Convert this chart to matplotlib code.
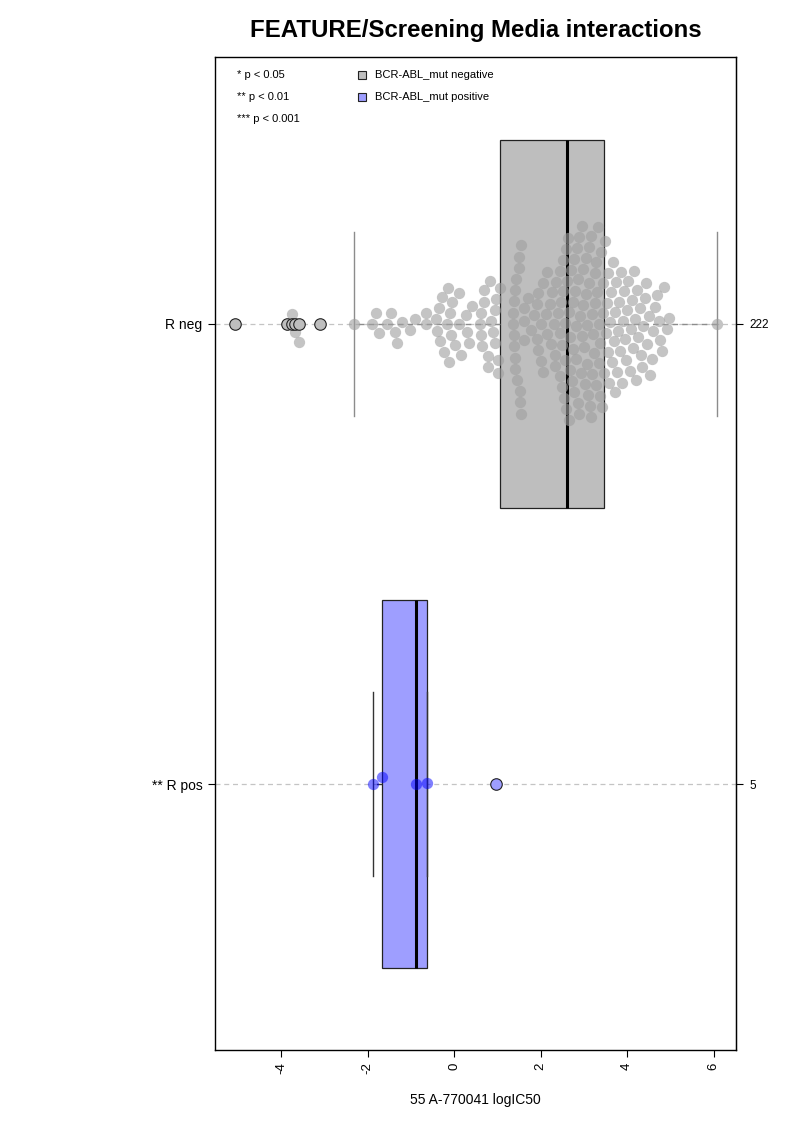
import numpy as np
import matplotlib
matplotlib.use('Agg')
import matplotlib.pyplot as plt

plt.rcParams['font.family'] = ['Liberation Sans', 'DejaVu Sans']

# groups, bottom to top
group_labels = ['** R pos', 'R neg']
group_counts = ['5', '222']
legend_groups = ['BCR-ABL_mut negative', 'BCR-ABL_mut positive']
sig_labels = ['* p < 0.05', '** p < 0.01', '*** p < 0.001']
x_ticks = [-4, -2, 0, 2, 4, 6]

# logIC50 values
pos_vals = [-1.87, -1.67, -0.88, -0.62, 0.98]
neg_vals = [
    -5.07, -3.86, -3.74, -3.67, -3.58, -3.10, -2.31, -1.89, -1.81, -1.74,
    -1.55, -1.46, -1.36, -1.33, -1.21, -1.01, -0.90, -0.65, -0.65,
    -0.41, -0.40, -0.35, -0.32, -0.29, -0.24, -0.16, -0.14, -0.12, -0.10,
    -0.08, -0.04, 0.02, 0.11, 0.12, 0.15, 0.27, 0.30, 0.34, 0.42,
    0.61, 0.62, 0.63, 0.64, 0.69, 0.70, 0.78, 0.79, 0.83, 0.86,
    0.90, 0.94, 0.95, 0.96, 1.01, 1.02, 1.06,
    1.36, 1.37, 1.38, 1.38, 1.39, 1.40, 1.41, 1.42, 1.43, 1.45,
    1.50, 1.51, 1.52, 1.53, 1.54, 1.55,
    1.61, 1.61, 1.62, 1.70, 1.77, 1.84, 1.91, 1.92, 1.94, 1.94,
    2.00, 2.01, 2.05, 2.06, 2.12, 2.14, 2.15, 2.21, 2.24, 2.26,
    2.30, 2.33, 2.33, 2.35, 2.40, 2.44, 2.45, 2.45,
    2.47, 2.49, 2.50, 2.51, 2.53, 2.54, 2.56, 2.56, 2.58, 2.59, 2.61,
    2.63, 2.65, 2.66, 2.68, 2.69, 2.71, 2.72, 2.74, 2.75, 2.77,
    2.78, 2.80, 2.81, 2.83, 2.84, 2.86, 2.87, 2.89, 2.90, 2.92,
    2.93, 2.95, 2.96, 2.98, 2.99, 3.01, 3.02, 3.04, 3.05, 3.07,
    3.08, 3.10, 3.11, 3.13, 3.14, 3.16, 3.17, 3.19, 3.20, 3.22,
    3.23, 3.25, 3.26, 3.28, 3.29, 3.31, 3.32, 3.34, 3.35, 3.37,
    3.38, 3.40, 3.42, 3.44, 3.45, 3.47,
    3.49, 3.51, 3.53, 3.55, 3.57, 3.59, 3.61, 3.63, 3.65, 3.67,
    3.69, 3.71, 3.73, 3.75, 3.77, 3.79, 3.81, 3.83,
    3.86, 3.88, 3.91, 3.93, 3.96, 3.98, 4.01, 4.03, 4.06, 4.08,
    4.11, 4.13, 4.16, 4.18, 4.20,
    4.23, 4.26, 4.29, 4.32, 4.35, 4.38, 4.41, 4.44, 4.47, 4.50, 4.53,
    4.57, 4.61, 4.65, 4.69, 4.73, 4.77, 4.81, 4.86, 4.92, 4.98,
    6.07,
]


def fivenum(v):
    x = np.sort(np.asarray(v, dtype=float))
    n = len(x)
    n4 = np.floor((n + 3) / 2) / 2
    d = np.array([1, n4, (n + 1) / 2, n + 1 - n4, n]) - 1
    return 0.5 * (x[np.floor(d).astype(int)] + x[np.ceil(d).astype(int)])


def box_stats(v):
    v = np.asarray(v, dtype=float)
    lo, q1, med, q3, hi = fivenum(v)
    iqr = q3 - q1
    inside = v[(v >= q1 - 1.5 * iqr) & (v <= q3 + 1.5 * iqr)]
    return dict(med=med, q1=q1, q3=q3, whislo=inside.min(), whishi=inside.max(),
                fliers=v[(v < q1 - 1.5 * iqr) | (v > q3 + 1.5 * iqr)])


def swarm(vals, sx, sy, d):
    # beeswarm "swarm" layout, computed in pixels
    xs = np.asarray(vals, dtype=float) * sx
    out = np.zeros(len(xs))
    px, py = [], []
    for i in np.argsort(xs, kind='stable'):
        x = xs[i]
        cands = [0.0]
        for a, b in zip(px, py):
            dx = abs(x - a)
            if dx < d:
                h = np.sqrt(d * d - dx * dx)
                cands += [b + h, b - h]
        cands.sort(key=lambda c: (round(abs(c), 6), -c))
        for c in cands:
            if all((x - a) ** 2 + (c - b) ** 2 >= d * d - 1e-6 for a, b in zip(px, py)):
                break
        out[i] = c
        px.append(x)
        py.append(c)
    return out / sy


fig = plt.figure(figsize=(7.93, 11.22), dpi=100)
ax = fig.add_axes([215 / 793, 1 - 1050 / 1122, 521 / 793, 993 / 1122])
xlim = (-5.53, 6.52)
ylim = (0.422, 2.58)
ax.set_xlim(xlim)
ax.set_ylim(ylim)
sx = 521 / (xlim[1] - xlim[0])
sy = 993 / (ylim[1] - ylim[0])

for y in [1, 2]:
    ax.axhline(y, color='#C4C4C4', lw=0.9, ls=(0, (4, 3)), zorder=0)

styles = [('#9E9EFF', '#333333', '#0000FF', 0.5, pos_vals, 1),
          ('#BEBEBE', '#8C8C8C', '#A0A0A0', 0.62, neg_vals, 2)]
for face, wcol, pcol, alpha, vals, pos in styles:
    st = box_stats(vals)
    art = ax.bxp([st], positions=[pos], widths=0.8, capwidths=0.4,
                 orientation='horizontal', patch_artist=True, showfliers=True,
                 boxprops=dict(facecolor=face, edgecolor='#222222', linewidth=0.9),
                 medianprops=dict(color='black', linewidth=2.2),
                 whiskerprops=dict(color=wcol, linewidth=1.0, linestyle=(0, (4, 3))),
                 capprops=dict(color=wcol, linewidth=1.0),
                 flierprops=dict(marker='o', markersize=8.3, markerfacecolor=face,
                                 markeredgecolor='#222222', markeredgewidth=0.8),
                 zorder=1)
    for fl in art['fliers']:
        fl.set_zorder(3)
    off = swarm(vals, sx, sy, 11.3)
    ax.scatter(vals, pos + off, s=66, color=pcol, alpha=alpha, linewidths=0, zorder=2)

ax.set_yticks([1, 2], labels=group_labels)
ax.tick_params(axis='y', length=5, pad=4, labelsize=10)
ax.set_xticks(x_ticks, labels=[str(t) for t in x_ticks])
ax.tick_params(axis='x', length=5, pad=4, labelsize=9.5, labelrotation=90)
for sp in ax.spines.values():
    sp.set_linewidth(1.0)

sec = ax.secondary_yaxis('right')
sec.set_yticks([1, 2], labels=group_counts)
sec.tick_params(length=5, pad=5, labelsize=8.5)

# legend texts
sig_y = [0.9819, 0.9597, 0.9376]
for lab, yy in zip(sig_labels, sig_y):
    ax.text(0.0422, yy, lab, transform=ax.transAxes, fontsize=8, va='center', ha='left')
for lab, face, yy in zip(legend_groups, ['#BEBEBE', '#9E9EFF'], sig_y):
    ax.plot([0.2822], [yy], marker='s', markersize=6, markerfacecolor=face,
            markeredgecolor='#222222', markeredgewidth=0.8, transform=ax.transAxes,
            clip_on=False)
    ax.text(0.3071, yy, lab, transform=ax.transAxes, fontsize=8, va='center', ha='left')

fig.text(475.5 / 793, 1 - 30 / 1122, 'FEATURE/Screening Media interactions',
         ha='center', va='center', fontsize=17.3, fontweight='bold')
fig.text(475.5 / 793, 1 - 1100 / 1122, '55 A-770041 logIC50',
         ha='center', va='center', fontsize=10)

fig.savefig('out.png', dpi=100)
